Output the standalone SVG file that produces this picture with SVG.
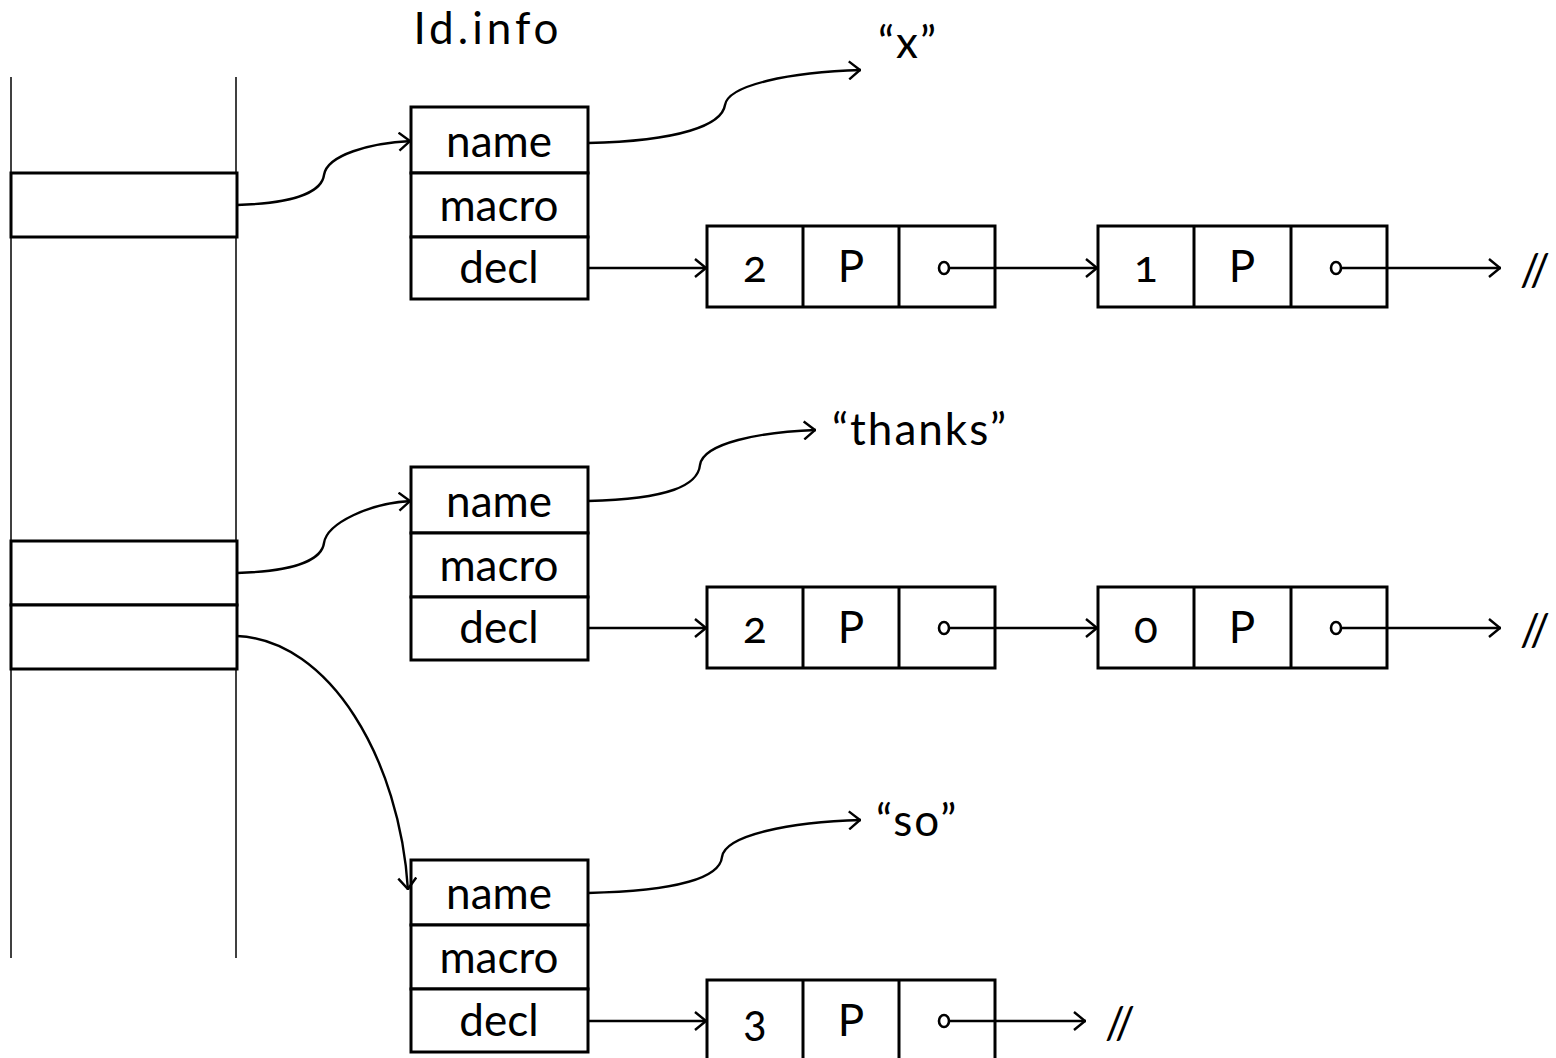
<svg xmlns="http://www.w3.org/2000/svg" width="1556" height="1058" viewBox="0 0 1556 1058">
  <style>
    text { font-family: Lato, "Open Sans", "Liberation Sans", sans-serif; font-size: 44px; fill: #000; font-feature-settings: "onum"; font-variant-numeric: oldstyle-nums; }
    .c { text-anchor: middle; }
    .str { letter-spacing: 2px; }
    .box { fill: #fff; stroke: #000; stroke-width: 3; }
    .div { stroke: #000; stroke-width: 3; }
    .col { stroke: #000; stroke-width: 1.5; fill: none; }
    .arr { fill: none; stroke: #000; stroke-width: 2.4; marker-end: url(#head); }
    .dot { fill: #fff; stroke: #000; stroke-width: 2.6; }
  </style>
  <defs>
    <marker id="head" viewBox="0 0 13 20" refX="13" refY="10" markerWidth="13" markerHeight="20" markerUnits="userSpaceOnUse" orient="auto">
      <path d="M1,1 L12,10 L1,19" fill="none" stroke="#000" stroke-width="2.4"/>
    </marker>
  </defs>

  <!-- stack column -->
  <g id="stack">
    <line class="col" x1="11" y1="77" x2="11" y2="958"/>
    <line class="col" x1="236" y1="77" x2="236" y2="958"/>
  </g>
  <g id="slot-a"><rect class="box" x="11" y="173" width="226" height="64"/></g>
  <g id="slot-b"><rect class="box" x="11" y="541" width="226" height="64"/></g>
  <g id="slot-c"><rect class="box" x="11" y="605" width="226" height="64"/></g>

  <text id="title" class="c" x="488" y="44" style="letter-spacing:4px">Id.info</text>

  <!-- Id.info records -->
  <g id="rec-1">
    <rect class="box" x="411" y="107" width="177" height="66"/>
    <rect class="box" x="411" y="173" width="177" height="64"/>
    <rect class="box" x="411" y="237" width="177" height="62"/>
    <text class="c" x="499" y="157">name</text>
    <text class="c" x="499" y="221">macro</text>
    <text class="c" x="499" y="283">decl</text>
  </g>
  <g id="rec-2">
    <rect class="box" x="411" y="467" width="177" height="66"/>
    <rect class="box" x="411" y="533" width="177" height="64"/>
    <rect class="box" x="411" y="597" width="177" height="63"/>
    <text class="c" x="499" y="517">name</text>
    <text class="c" x="499" y="581">macro</text>
    <text class="c" x="499" y="643">decl</text>
  </g>
  <g id="rec-3">
    <rect class="box" x="411" y="860" width="177" height="65"/>
    <rect class="box" x="411" y="925" width="177" height="64"/>
    <rect class="box" x="411" y="989" width="177" height="63"/>
    <text class="c" x="499" y="909">name</text>
    <text class="c" x="499" y="973">macro</text>
    <text class="c" x="499" y="1036">decl</text>
  </g>

  <!-- string labels -->
  <text id="str-x" class="str" x="878" y="58">“x”</text>
  <text id="str-thanks" class="str" x="832" y="445">“thanks”</text>
  <text id="str-so" class="str" x="876" y="836">“so”</text>

  <!-- decl list nodes -->
  <g id="node-1">
    <rect class="box" x="707" y="226" width="288" height="81"/>
    <line class="div" x1="803" y1="226" x2="803" y2="307"/>
    <line class="div" x1="899" y1="226" x2="899" y2="307"/>
    <text class="c" x="755" y="282">2</text>
    <text class="c" x="851" y="282">P</text>
  </g>
  <g id="node-2">
    <rect class="box" x="1098" y="226" width="289" height="81"/>
    <line class="div" x1="1194" y1="226" x2="1194" y2="307"/>
    <line class="div" x1="1291" y1="226" x2="1291" y2="307"/>
    <text class="c" x="1146" y="282">1</text>
    <text class="c" x="1242" y="282">P</text>
  </g>
  <g id="node-3">
    <rect class="box" x="707" y="587" width="288" height="81"/>
    <line class="div" x1="803" y1="587" x2="803" y2="668"/>
    <line class="div" x1="899" y1="587" x2="899" y2="668"/>
    <text class="c" x="755" y="643">2</text>
    <text class="c" x="851" y="643">P</text>
  </g>
  <g id="node-4">
    <rect class="box" x="1098" y="587" width="289" height="81"/>
    <line class="div" x1="1194" y1="587" x2="1194" y2="668"/>
    <line class="div" x1="1291" y1="587" x2="1291" y2="668"/>
    <text class="c" x="1146" y="643">0</text>
    <text class="c" x="1242" y="643">P</text>
  </g>
  <g id="node-5">
    <rect class="box" x="707" y="980" width="288" height="81"/>
    <line class="div" x1="803" y1="980" x2="803" y2="1061"/>
    <line class="div" x1="899" y1="980" x2="899" y2="1061"/>
    <text class="c" x="755" y="1036">3</text>
    <text class="c" x="851" y="1036">P</text>
  </g>

  <!-- list terminators -->
  <text id="nil-1" x="1520" y="286">//</text>
  <text id="nil-2" x="1520" y="646">//</text>
  <text id="nil-3" x="1105" y="1039">//</text>

  <!-- pointers -->
  <g id="connectors">
    <path class="arr" d="M237,205 C300,203 322,190 324,175 C327,155 370,143 411,141"/>
    <path class="arr" d="M237,573 C300,571 322,558 324,543 C327,523 370,503 411,501"/>
    <path class="arr" d="M237,636 C330,640 400,760 408,890"/>
    <path class="arr" d="M588,143 C680,141 722,125 725,105 C728,85 790,72 861,70"/>
    <path class="arr" d="M588,501 C670,499 698,485 700,465 C703,443 760,432 816,430"/>
    <path class="arr" d="M588,893 C680,891 720,877 722,857 C725,835 790,822 861,820"/>
    <path class="arr" d="M588,268 L707,268"/>
    <path class="arr" d="M588,628 L707,628"/>
    <path class="arr" d="M588,1021 L707,1021"/>
    <path class="arr" d="M950,268 L1098,268"/>
    <path class="arr" d="M1342,268 L1501,268"/>
    <path class="arr" d="M950,628 L1098,628"/>
    <path class="arr" d="M1342,628 L1501,628"/>
    <path class="arr" d="M950,1021 L1086,1021"/>
    <ellipse class="dot" cx="944" cy="268" rx="5" ry="6"/>
    <ellipse class="dot" cx="1336" cy="268" rx="5" ry="6"/>
    <ellipse class="dot" cx="944" cy="628" rx="5" ry="6"/>
    <ellipse class="dot" cx="1336" cy="628" rx="5" ry="6"/>
    <ellipse class="dot" cx="944" cy="1021" rx="5" ry="6"/>
  </g>
</svg>
